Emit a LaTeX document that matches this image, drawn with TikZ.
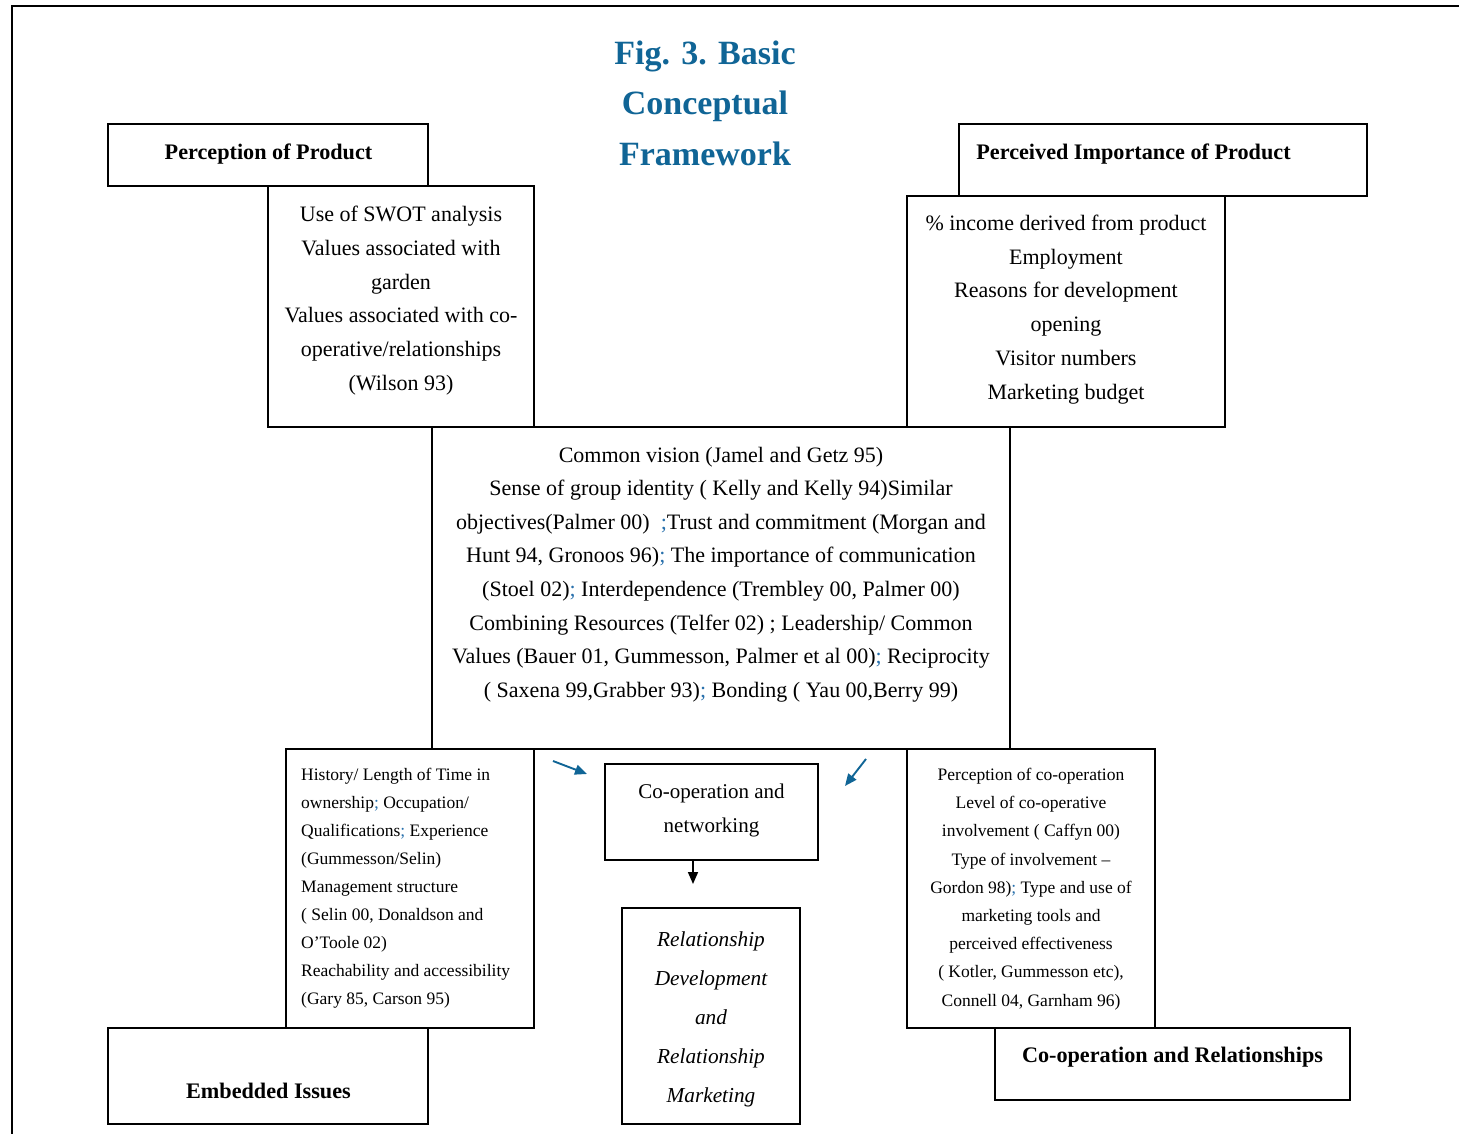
\documentclass[tikz,border=0pt]{standalone}
\usepackage{fontspec}
\setmainfont{Liberation Serif}
\usetikzlibrary{arrows.meta}
\definecolor{titleblue}{RGB}{16,101,150}
\definecolor{semiblue}{RGB}{40,112,172}
\newcommand{\bsc}{\textcolor{semiblue}{;}}
\begin{document}
\begin{tikzpicture}[x=1pt,y=-1pt,
  box/.style={draw, line width=1.3pt, inner sep=0pt, fill=none},
  head/.style={inner sep=0pt, font=\fontsize{22.2}{26}\selectfont\bfseries},
  bodytxt/.style={inner sep=0pt, align=center, font=\fontsize{22}{33.8}\selectfont},
  smalltxt/.style={inner sep=0pt, font=\fontsize{17.5}{28.2}\selectfont},
  ttl/.style={inner sep=0pt, align=center, text=titleblue, font=\fontsize{34}{50.5}\selectfont\bfseries},
  bluearrow/.style={draw=titleblue, line width=1.9pt, -{Triangle[length=12pt,width=10pt]}},
  blackarrow/.style={draw=black, line width=1.6pt, -{Triangle[length=12pt,width=10pt]}}
]
\useasboundingbox (0,0) rectangle (1459,1134);
\fill[white] (0,0) rectangle (1459,1134);
% outer frame
\draw[line width=2pt] (12,1134) -- (12,6) -- (1459,6);

% title
\node[ttl] (title) at (705,103) {Fig. 3. Basic\\Conceptual\\Framework};

% boxes
\node[box, minimum width=320pt, minimum height=62pt] (pp) at (268,155) {};
\node[box, minimum width=266pt, minimum height=241pt] (swot) at (401,306.5) {};
\node[box, minimum width=408pt, minimum height=72pt] (pip) at (1163,160) {};
\node[box, minimum width=318pt, minimum height=231pt] (inc) at (1066,311.5) {};
\node[box, minimum width=578pt, minimum height=322pt] (cen) at (721,588) {};
\node[box, minimum width=248pt, minimum height=279pt] (emb) at (410,888.5) {};
\node[box, minimum width=248pt, minimum height=279pt] (cor) at (1031,888.5) {};
\node[box, minimum width=213pt, minimum height=96pt] (conet) at (711.5,812) {};
\node[box, minimum width=178pt, minimum height=216pt] (rel) at (711,1016) {};
\node[box, minimum width=320pt, minimum height=96pt] (ei) at (268,1076) {};
\node[box, minimum width=355pt, minimum height=72pt] (car) at (1172.5,1064) {};

% header texts
\node[head] (pptxt) at (268.5,154) {Perception of Product};
\node[head] (piptxt) at (1133.5,154) {Perceived Importance of Product};
\node[head] (eitxt) at (268.5,1090.5) {Embedded Issues};
\node[head] (cartxt) at (1172.5,1057) {Co-operation and Relationships};

% body texts
\node[bodytxt] (swottxt) at (401,300.5) {Use of SWOT analysis\\Values associated with\\garden\\Values associated with co-\\operative/relationships\\(Wilson 93)};
\node[bodytxt] (inctxt) at (1066,309.5) {\% income derived from product\\Employment\\Reasons for development\\opening\\Visitor numbers\\Marketing budget};
\node[bodytxt, font=\fontsize{22}{33.6}\selectfont] (centxt) at (721,574.5) {Common vision (Jamel and Getz 95)\\
Sense of group identity ( Kelly and Kelly 94)Similar\\
objectives(Palmer 00)\ \ \bsc Trust and commitment (Morgan and\\
Hunt 94, Gronoos 96)\bsc{} The importance of communication\\
(Stoel 02)\bsc{} Interdependence (Trembley 00, Palmer 00)\\
Combining Resources (Telfer 02) ; Leadership/ Common\\
Values (Bauer 01, Gummesson, Palmer et al 00)\bsc{} Reciprocity\\
( Saxena 99,Grabber 93)\bsc{} Bonding ( Yau 00,Berry 99)};
\node[smalltxt, align=left, anchor=west, font=\fontsize{17.5}{28}\selectfont] (embtxt) at (301,888) {History/ Length of Time in\\ownership\bsc{} Occupation/\\Qualifications\bsc{} Experience\\(Gummesson/Selin)\\Management structure\\( Selin 00, Donaldson and\\O'Toole 02)\\Reachability and accessibility\\(Gary 85, Carson 95)};
\node[smalltxt, align=center] (cortxt) at (1031,889) {Perception of co-operation\\Level of co-operative\\involvement ( Caffyn 00)\\Type of involvement --\\Gordon 98)\bsc{} Type and use of\\marketing tools and\\perceived effectiveness\\( Kotler, Gummesson etc),\\Connell 04, Garnham 96)};
\node[bodytxt, font=\fontsize{21}{34}\selectfont] (conettxt) at (711.5,810) {Co-operation and\\networking};
\node[bodytxt, font=\fontsize{21.3}{39}\selectfont\itshape] (reltxt) at (711,1019) {Relationship\\Development\\and\\Relationship\\Marketing};

% arrows
\coordinate (a1s) at (553,761);
\coordinate (a1e) at (587,774);
\coordinate (a2s) at (866,759);
\coordinate (a2e) at (845,786);
\coordinate (a3s) at (693,860);
\coordinate (a3e) at (693,884);
\draw[bluearrow] (a1s) -- (a1e);
\draw[bluearrow] (a2s) -- (a2e);
\draw[blackarrow] (a3s) -- (a3e);
\end{tikzpicture}
\end{document}
